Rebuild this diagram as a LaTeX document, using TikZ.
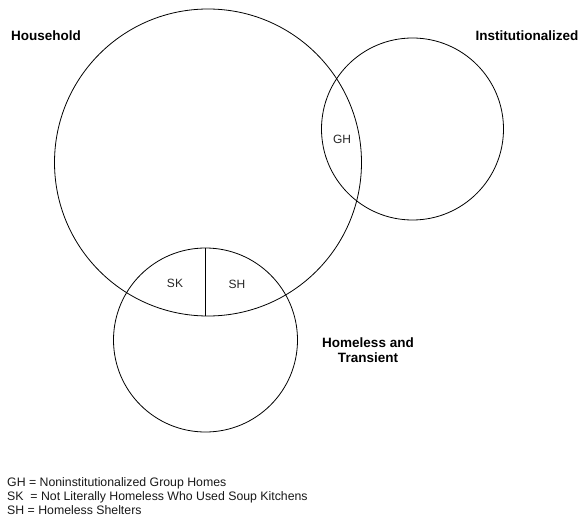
\documentclass[tikz,border=0pt]{standalone}
\usepackage{fontspec}
\setmainfont{Liberation Sans}
\begin{document}
\begin{tikzpicture}[x=1pt,y=-1pt,
  setcircle/.style={circle,draw=black,line width=0.8pt,inner sep=0pt},
  grouplabel/.style={font=\fontsize{13.5}{15}\selectfont\bfseries,align=center,inner sep=0pt},
  regionlabel/.style={font=\fontsize{12}{14}\selectfont,text=black!85,inner sep=0pt},
  legendline/.style={font=\fontsize{12.3}{14}\selectfont,anchor=base west,inner sep=0pt,text=black!90}]
\fill[white] (0,0) rectangle (581,516);
\useasboundingbox (0,0) rectangle (581,516);
% circles
\node[setcircle,minimum size=307pt] (house) at (208,162.5) {};
\node[setcircle,minimum size=182pt] (inst) at (412.5,129) {};
\node[setcircle,minimum size=184pt] (homeless) at (205.5,340) {};
% divider
\draw[line width=1.6pt] (homeless.north) -- (homeless.north |- house.south);
% group labels
\node[grouplabel] (lhouse) at (46,36) {Household};
\node[grouplabel] (linst) at (527,36) {Institutionalized};
\node[grouplabel] (lhome) at (368,350) {Homeless and\\Transient};
% region labels
\node[regionlabel] (gh) at (342,139) {GH};
\node[regionlabel] (sk) at (175,283) {SK};
\node[regionlabel] (sh) at (237,284) {SH};
% legend
\node[legendline] (leg1) at (7,486) {GH = Noninstitutionalized Group Homes};
\node[legendline] (leg2) at (7,500) {SK\ \ = Not Literally Homeless Who Used Soup Kitchens};
\node[legendline] (leg3) at (7,514) {SH = Homeless Shelters};
\end{tikzpicture}
\end{document}
